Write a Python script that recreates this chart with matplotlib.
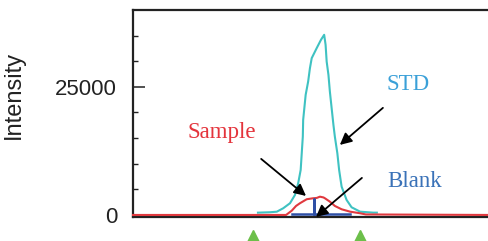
import matplotlib
matplotlib.use("Agg")
import matplotlib.pyplot as plt
from matplotlib import font_manager as fm

# ---------------- data ----------------
std_time = [3.51, 3.85, 4.04, 4.22, 4.41, 4.55, 4.64, 4.71, 4.74, 4.77, 4.78,
            4.85, 4.92, 4.97, 5.02, 5.16, 5.28, 5.37,
            5.41, 5.44, 5.49, 5.53, 5.58, 5.63, 5.67, 5.74, 5.79, 5.86, 6.00,
            6.14, 6.38, 6.75, 6.85]
std_int = [450, 530, 640, 1310, 2290, 3910, 6190, 8790, 12050, 15290, 18550,
           23440, 26040, 28650, 30600, 32560, 34180, 35160,
           33200, 29940, 27340, 24090, 20830, 17580, 15290, 12050, 8790, 5530, 2930,
           1500, 640, 450, 450]

sample_time = [0.0, 4.30, 4.46, 4.58, 4.69, 4.88, 5.06, 5.16, 5.25, 5.35, 5.39,
               5.53, 5.67, 5.86, 6.10, 6.38, 6.54, 10.0]
sample_int = [0, 0, 840, 1760, 2290, 3070, 3260, 3320, 3570, 3420, 3260,
              2600, 1760, 1110, 640, 330, 100, 0]

blank_time = [4.46, 5.08, 5.08, 5.08, 6.10]
blank_int = [150, 150, 3100, 150, 150]

marker_time = [3.37, 6.38]          # green integration markers
marker_level = [-4490, -4490]

ytick_values = [0, 25000]
ytick_labels = ["0", "25000"]
yminor_values = [5000, 10000, 15000, 20000, 30000, 35000]

# ---------------- fonts ----------------
def has_font(name):
    try:
        fm.findfont(fm.FontProperties(family=name), fallback_to_default=False)
        return True
    except Exception:
        return False

serif = "Liberation Serif" if has_font("Liberation Serif") else "DejaVu Serif"
if has_font("Liberation Sans Narrow"):
    tick_font, tick_size = "Liberation Sans Narrow", 20
else:
    tick_font, tick_size = "Liberation Sans", 16
label_font = "Liberation Sans" if has_font("Liberation Sans") else "DejaVu Sans"

# ---------------- figure ----------------
W, H = 489, 241
fig = plt.figure(figsize=(W / 100, H / 100), dpi=100)
ax = fig.add_axes([133 / W, 1 - 216.5 / H, 356 / W, 206.5 / H])

ax.set_xlim(0, 10)
ax.set_ylim(-300, 40000)

ax.plot(std_time, std_int, color="#3fc2c2", lw=1.5, zorder=3)
ax.plot(sample_time, sample_int, color="#e0393f", lw=1.5, zorder=4, clip_on=False)
ax.plot(blank_time, blank_int, color="#2e4fa5", lw=1.8, zorder=5)

ax.plot(marker_time, marker_level, linestyle="none", marker="^", markersize=11.5,
        color="#6cbf4a", clip_on=False, zorder=6)

# spines
for side in ["left", "top", "bottom"]:
    ax.spines[side].set_color("#222222")
    ax.spines[side].set_linewidth(1.6)
ax.spines["right"].set_visible(False)

ax.set_xticks([])
ax.set_yticks(ytick_values)
ax.set_yticklabels(ytick_labels, fontfamily=tick_font, fontsize=tick_size, color="#222222")
ax.set_yticks(yminor_values, minor=True)
ax.tick_params(axis="y", which="major", direction="in", length=8.6, width=1.1, pad=11.5,
               color="#222222")
ax.tick_params(axis="y", which="minor", direction="in", length=3.6, width=1.0,
               color="#222222")

ax.set_ylabel("Intensity", fontfamily=label_font, fontsize=17, color="#222222")
ax.yaxis.set_label_coords(-0.303, 0.588)

# annotations
ax.text(7.72, 24410, "STD", family=serif, fontsize=16.5, color="#3aa0d8",
        ha="center", va="baseline")
ax.text(2.49, 15040, "Sample", family=serif, fontsize=16.5, color="#e4343c",
        ha="center", va="baseline")
ax.text(7.91, 5470, "Blank", family=serif, fontsize=16.5, color="#3a72b8",
        ha="center", va="baseline")

arrow = dict(arrowstyle="-|>,head_length=0.7,head_width=0.35", color="black", lw=1.3,
             shrinkA=0, shrinkB=0)
ax.annotate("", xy=(5.81, 13670), xytext=(7.02, 20900), arrowprops=arrow, zorder=7)
ax.annotate("", xy=(4.86, 3710), xytext=(3.60, 10940), arrowprops=arrow, zorder=7)
ax.annotate("", xy=(5.14, -390), xytext=(6.43, 7230), arrowprops=arrow, zorder=7,
            annotation_clip=False)

fig.savefig("out.png", dpi=100)
